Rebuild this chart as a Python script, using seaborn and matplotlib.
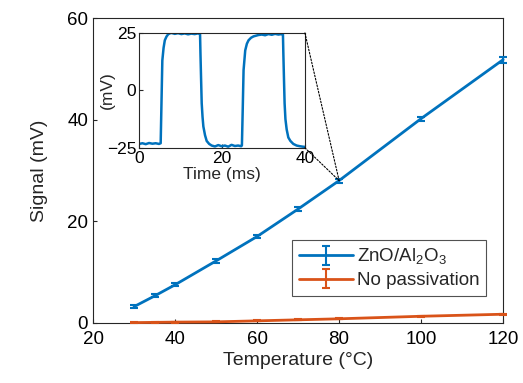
import numpy as np
import pandas as pd
import matplotlib
matplotlib.use("Agg")
import matplotlib.pyplot as plt
from matplotlib.patches import ConnectionPatch
import seaborn as sns

# main data: signal vs temperature
temperature = [30, 35, 40, 50, 60, 70, 80, 100, 120]
signal_zno = [3.2, 5.3, 7.5, 12.2, 17.0, 22.4, 28.0, 40.2, 51.8]
err_zno = [0.3, 0.3, 0.3, 0.4, 0.3, 0.4, 0.4, 0.4, 0.6]
signal_bare = [0.05, 0.1, 0.15, 0.2, 0.4, 0.6, 0.8, 1.3, 1.7]
err_bare = [0.1, 0.1, 0.1, 0.1, 0.1, 0.1, 0.1, 0.1, 0.1]

# inset trace: signal vs time
time_ms = [0, 0.8, 1.6, 2.4, 3.2, 4.0, 4.8, 5.2, 5.4, 5.6, 5.9, 6.2, 6.6, 7.0, 7.4, 7.8,
           8.6, 9.4, 10.2, 11.0, 11.8, 12.6, 13.4, 14.2, 14.7, 14.8, 14.95, 15.1, 15.3,
           15.5, 15.9, 16.3, 16.9, 17.5, 18.3, 19.1, 19.9, 20.7, 21.5, 22.3, 23.1, 23.9,
           24.6, 24.8, 25.0, 25.2, 25.6, 26.0, 26.4, 27.0, 27.6, 28.8, 29.6, 30.4, 31.2,
           32.0, 32.8, 33.6, 34.4, 34.7, 34.8, 34.95, 35.1, 35.3, 35.6, 36.0, 36.5, 37.2,
           38.0, 38.8, 39.5, 40.0]
trace_mv = [-23.3, -23.0, -23.4, -22.9, -23.2, -23.0, -23.3, -23.0, -5.0, 13.0, 18.5, 21.8,
            23.4, 24.4, 24.8, 25.0, 24.6, 24.9, 24.5, 24.8, 24.4, 24.7, 24.5, 24.8, 24.5,
            16.0, 5.0, -5.6, -11.5, -15.7, -19.5, -22.0, -23.3, -24.0, -24.4, -23.8, -24.3,
            -24.0, -24.5, -23.7, -24.2, -24.0, -24.3, -24.0, -8.0, 8.8, 17.4, 20.3, 21.8,
            22.9, 23.5, 24.1, 24.3, 24.0, 24.5, 24.2, 24.6, 24.3, 24.5, 24.4, 16.0, 5.0,
            -5.6, -12.5, -17.0, -20.5, -22.0, -23.3, -24.0, -24.3, -24.5, -24.6]

blue = "#0072BD"
orange = "#D95319"
edge = "#262626"

sns.set_theme(style="ticks")
plt.rcParams["font.family"] = ["Liberation Sans", "DejaVu Sans"]
plt.rcParams["mathtext.fontset"] = "custom"
plt.rcParams["mathtext.rm"] = "Liberation Sans"
plt.rcParams["axes.edgecolor"] = edge
plt.rcParams["xtick.color"] = edge
plt.rcParams["ytick.color"] = edge
plt.rcParams["xtick.labelcolor"] = "black"
plt.rcParams["ytick.labelcolor"] = "black"

fig = plt.figure(figsize=(5.23, 3.83), dpi=100)
ax = fig.add_axes([0.178, 0.157, 0.784, 0.796])

ax.errorbar(temperature, signal_zno, yerr=err_zno, color=blue, lw=2, capsize=3,
            elinewidth=1.5, capthick=1.5, label="ZnO/Al$_2$O$_3$", clip_on=False, zorder=3)
ax.errorbar(temperature, signal_bare, yerr=err_bare, color=orange, lw=2, capsize=3,
            elinewidth=1.5, capthick=1.5, label="No passivation", clip_on=False, zorder=3)

ax.set_xlim(20, 120)
ax.set_ylim(0, 60)
ax.set_xticks([20, 40, 60, 80, 100, 120])
ax.set_yticks([0, 20, 40, 60])
ax.tick_params(direction="in", length=3, width=0.8, labelsize=13.5, top=False, right=False)
ax.tick_params(axis="x", pad=6)
for s in ax.spines.values():
    s.set_visible(True)
    s.set_linewidth(0.8)
ax.set_xlabel("Temperature (°C)", fontsize=14, labelpad=3)
ax.set_ylabel("Signal (mV)", fontsize=14, labelpad=14)

leg = ax.legend(loc="lower right", bbox_to_anchor=(0.958, 0.089), fontsize=13.5,
                frameon=True, fancybox=False, edgecolor=edge, handlelength=2.9,
                handletextpad=0.2, borderpad=0.35, labelspacing=0.25, borderaxespad=0)
leg.get_frame().set_linewidth(0.8)

# inset
ins = fig.add_axes([0.266, 0.614, 0.317, 0.300])
inset_df = pd.DataFrame({"time": time_ms, "mv": trace_mv})
sns.lineplot(data=inset_df, x="time", y="mv", ax=ins, color=blue, lw=1.8)
ins.set_xlim(0, 40)
ins.set_ylim(-25, 25)
ins.set_xticks([0, 20, 40])
ins.set_yticks([-25, 0, 25])
ins.tick_params(direction="in", length=3, width=0.8, labelsize=12.5, pad=2)
for s in ins.spines.values():
    s.set_visible(True)
    s.set_linewidth(0.8)
ins.set_xlabel("Time (ms)", fontsize=12.5, labelpad=1)
ins.set_ylabel("(mV)", fontsize=12.5, labelpad=-6)

for corner in [(40, 25), (40, -25)]:
    con = ConnectionPatch(xyA=corner, coordsA=ins.transData, xyB=(80, 28), coordsB=ax.transData,
                          linestyle=(0, (1.5, 1.5)), color="black", lw=0.8)
    fig.add_artist(con)

fig.savefig("out.png", dpi=100)
